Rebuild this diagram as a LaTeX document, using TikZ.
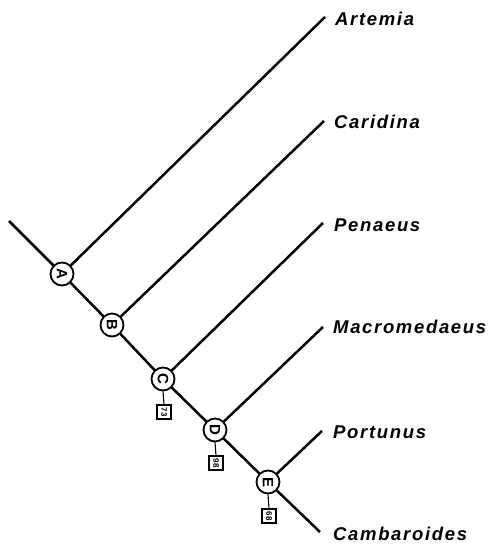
\documentclass[tikz,border=0pt]{standalone}
\usepackage{fontspec}
\newfontfamily\labfont[LetterSpace=9]{Liberation Sans}
\newfontfamily\nodefont{Liberation Sans}
\begin{document}
\begin{tikzpicture}[x=1pt,y=-1pt,
  branch/.style={line width=2.5pt},
  hub/.style={circle,draw,line width=1.8pt,fill=white,minimum size=23pt,inner sep=0pt,font=\nodefont\fontsize{15}{15}\selectfont\bfseries},
  valbox/.style={draw,line width=1.1pt,fill=white,minimum size=14pt,inner sep=0pt,font=\nodefont\fontsize{8}{8}\selectfont\bfseries},
  taxon/.style={anchor=west,inner sep=0pt,font=\labfont\fontsize{18.5}{18.5}\selectfont\bfseries\itshape}]
\useasboundingbox (0,0) rectangle (490,545);
\coordinate (root) at (9,221);
\coordinate (tA) at (325,17);
\coordinate (tB) at (324,121);
\coordinate (tC) at (323,223);
\coordinate (tD) at (323,327);
\coordinate (tE) at (322,431);
\coordinate (tF) at (320,532);
\coordinate (A) at (62,274);
\coordinate (B) at (112,325);
\coordinate (C) at (163,379);
\coordinate (D) at (215,430);
\coordinate (E) at (268,482);
\draw[branch] (root) -- (A) -- (B) -- (C) -- (D) -- (E) -- (tF);
\draw[branch] (A) -- (tA);
\draw[branch] (B) -- (tB);
\draw[branch] (C) -- (tC);
\draw[branch] (D) -- (tD);
\draw[branch] (E) -- (tE);
\node[hub] (nA) at (A) {\rotatebox{-90}{A}};
\node[hub] (nB) at (B) {\rotatebox{-90}{B}};
\node[hub] (nC) at (C) {\rotatebox{-90}{C}};
\node[hub] (nD) at (D) {\rotatebox{-90}{D}};
\node[hub] (nE) at (E) {\rotatebox{-90}{E}};
\node[valbox] (vC) at (164,412) {\rotatebox{-90}{73}};
\node[valbox] (vD) at (216,463) {\rotatebox{-90}{98}};
\node[valbox] (vE) at (269,516) {\rotatebox{-90}{68}};
\draw[line width=1.1pt] (nC.south) -- (vC.north);
\draw[line width=1.1pt] (nD.south) -- (vD.north);
\draw[line width=1.1pt] (nE.south) -- (vE.north);
\node[taxon] (lA) at (335,19) {Artemia};
\node[taxon] (lB) at (334,122) {Caridina};
\node[taxon] (lC) at (334,225) {Penaeus};
\node[taxon] (lD) at (333,327) {Macromedaeus};
\node[taxon] (lE) at (333,432) {Portunus};
\node[taxon] (lF) at (333,534) {Cambaroides};
\end{tikzpicture}
\end{document}
